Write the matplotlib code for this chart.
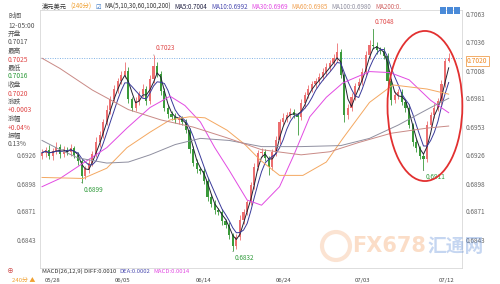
import numpy as np
import pandas as pd
import matplotlib
matplotlib.use('Agg')
import matplotlib.pyplot as plt
from matplotlib.patches import Ellipse, Rectangle

plt.rcParams['font.family'] = ['Noto Sans CJK SC', 'DejaVu Sans']

# AUD/USD 240min candles
first_open = 0.6925
close = [0.6928, 0.6931, 0.6925, 0.6930, 0.6934, 0.6927, 0.6931, 0.6929, 0.6933, 0.6926,
         0.6920, 0.6905, 0.6912, 0.6918, 0.6927, 0.6938, 0.6945, 0.6958, 0.6970, 0.6980,
         0.6990, 0.6998, 0.7004, 0.7008, 0.6980, 0.6972, 0.6978, 0.6985, 0.6990, 0.6978,
         0.7000, 0.7012, 0.7005, 0.6988, 0.6972, 0.6966, 0.6963, 0.6960, 0.6962, 0.6958,
         0.6950, 0.6932, 0.6918, 0.6912, 0.6910, 0.6901, 0.6885, 0.6878, 0.6872, 0.6870,
         0.6862, 0.6858, 0.6848, 0.6837, 0.6846, 0.6863, 0.6870, 0.6880, 0.6897, 0.6914,
         0.6928, 0.6929, 0.6923, 0.6914, 0.6929, 0.6940, 0.6958, 0.6962, 0.6965, 0.6968,
         0.6965, 0.6963, 0.6976, 0.6984, 0.6990, 0.6995, 0.6998, 0.7002, 0.7007, 0.7011,
         0.7015, 0.7020, 0.7026, 0.7004, 0.6965, 0.6972, 0.6982, 0.6993, 0.6997, 0.7007,
         0.7023, 0.7033, 0.7032, 0.7028, 0.7027, 0.7022, 0.6998, 0.6979, 0.6984, 0.6987,
         0.6977, 0.6972, 0.6955, 0.6938, 0.6933, 0.6925, 0.6922, 0.6955, 0.6965, 0.6972,
         0.6978, 0.6995, 0.7017, 0.7020]
# wick lengths in pips above / below the body
up_wick = [4, 3, 5, 3, 4, 3, 4, 3, 4, 2,
           3, 2, 3, 4, 3, 5, 4, 3, 4, 3,
           4, 3, 4, 8, 3, 2, 4, 3, 5, 3,
           4, 11, 4, 3, 3, 2, 3, 4, 3, 2,
           3, 2, 3, 4, 2, 3, 2, 3, 4, 2,
           3, 2, 3, 2, 3, 4, 3, 2, 3, 4,
           3, 4, 3, 2, 3, 4, 3, 5, 3, 4,
           3, 2, 4, 3, 4, 3, 3, 4, 3, 4,
           3, 4, 9, 3, 2, 3, 4, 3, 4, 3,
           4, 5, 15, 4, 3, 4, 3, 2, 4, 3,
           3, 2, 3, 2, 3, 2, 3, 4, 3, 4,
           3, 4, 3, 5]
dn_wick = [3, 4, 3, 4, 3, 4, 3, 3, 4, 3,
           4, 6, 3, 4, 3, 3, 4, 3, 3, 4,
           3, 4, 3, 3, 4, 3, 3, 4, 3, 4,
           3, 4, 3, 4, 3, 4, 3, 3, 4, 3,
           3, 4, 3, 4, 3, 3, 4, 3, 4, 3,
           4, 3, 4, 5, 3, 3, 4, 3, 3, 4,
           3, 4, 3, 8, 3, 4, 3, 3, 4, 3,
           3, 18, 3, 4, 3, 3, 4, 3, 3, 4,
           3, 3, 4, 3, 7, 4, 3, 3, 4, 3,
           3, 4, 3, 4, 3, 3, 4, 5, 3, 4,
           3, 4, 3, 3, 4, 3, 11, 3, 4, 3,
           3, 4, 3, 1]

# slower moving averages, sampled along the chart (candle index, price)
ma30_x = [0, 5, 10.6, 18, 23.6, 30, 35.6, 39.7, 44, 48, 52, 57, 61, 66, 70, 74.4, 79, 83.6, 91, 96.7, 102, 108, 113]
ma30_y = [0.6895, 0.6903, 0.6916, 0.6933, 0.6952, 0.6972, 0.6983, 0.6974, 0.6958, 0.6933, 0.6911, 0.6882,
          0.6877, 0.6895, 0.6926, 0.6963, 0.6982, 0.6996, 0.7007, 0.7006, 0.6999, 0.6979, 0.6967]
ma60_x = [0, 11.4, 18, 23.6, 30, 35.6, 41, 45.3, 51.4, 56.4, 60.6, 66, 72.5, 79, 83.6, 91, 97.5, 107, 113]
ma60_y = [0.6904, 0.6903, 0.6913, 0.6933, 0.6948, 0.6960, 0.6963, 0.6962, 0.6950, 0.6936, 0.6921, 0.6906,
          0.6906, 0.6919, 0.6942, 0.6977, 0.6994, 0.6990, 0.6985]
ma100_x = [0, 5, 10, 18, 24, 30, 37, 44, 52, 61, 72, 83, 91, 99, 108, 113]
ma100_y = [0.6940, 0.6931, 0.6923, 0.6918, 0.6919, 0.6926, 0.6936, 0.6942, 0.6940, 0.6934, 0.6934, 0.6935,
           0.6942, 0.6955, 0.6972, 0.6981]
ma200_x = [0, 5, 14, 24, 33, 42, 51, 61, 72, 80, 88, 97, 107, 113]
ma200_y = [0.7020, 0.7010, 0.6989, 0.6970, 0.6960, 0.6953, 0.6943, 0.6931, 0.6926, 0.6929, 0.6938, 0.6947,
           0.6952, 0.6954]

price_ticks = [0.7063, 0.7036, 0.7008, 0.6981, 0.6953, 0.6926, 0.6898, 0.6871, 0.6843]
date_pos = [3, 22.5, 45, 67, 89, 112.5]
date_labels = ['05/28', '06/05', '06/14', '06/24', '07/03', '07/12']
last_price = 0.7020

# marked extremes: candle index, 'h' or 'l'
marks = [(11, 'l'), (31, 'h'), (53, 'l'), (92, 'h'), (106, 'l')]

info_names = ['时间', '开盘', '最高', '最低', '收盘', '涨跌', '涨幅', '振幅']
info_vals = ['12-05:00', '0.7017', '0.7025', '0.7016', '0.7020', '+0.0003', '+0.04%', '0.13%']
info_cols = ['#555555', '#555555', '#e04848', '#2e9a3a', '#e04848', '#e04848', '#e04848', '#555555']

UP = '#ec6f70'
DN = '#3a9a3a'

close = np.array(close)
opn = np.r_[first_open, close[:-1]]
hi = np.maximum(opn, close) + np.array(up_wick) * 0.0001
lo = np.minimum(opn, close) - np.array(dn_wick) * 0.0001
idx = np.arange(len(close))
cols = np.where(close >= opn, UP, DN)

W, H = 500, 284
fig = plt.figure(figsize=(5.0, 2.84), dpi=100)
ax = fig.add_axes([40 / W, 1 - 268 / H, 422 / W, 258 / H])

ax.vlines(idx, lo, hi, colors=cols, lw=0.6, zorder=2)
body = np.maximum(np.abs(close - opn), 0.00008)
ax.bar(idx, body, bottom=np.minimum(opn, close), width=0.6, color=cols, lw=0, zorder=3)

s = pd.Series(close)
ax.plot(idx, s.rolling(3, min_periods=1).mean(), color='#222233', lw=0.7, zorder=4)
ax.plot(idx, s.rolling(5, min_periods=1).mean(), color='#3a3a9a', lw=0.7, zorder=4)
ax.plot(ma30_x, ma30_y, color='#e24ae2', lw=0.7, zorder=4)
ax.plot(ma60_x, ma60_y, color='#f4a861', lw=0.7, zorder=4)
ax.plot(ma100_x, ma100_y, color='#8f8fa0', lw=0.7, zorder=4)
ax.plot(ma200_x, ma200_y, color='#c98a86', lw=0.7, zorder=4)

ax.axhline(last_price, color='#7fb2e5', lw=0.7, ls=(0, (1, 1.5)), zorder=1)

for i, k in marks:
    if k == 'h':
        ax.annotate(f'{hi[i]:.4f}', xy=(i, hi[i]), xytext=(2, 3), textcoords='offset pixels',
                    fontsize=4.6, color='#e04848', va='bottom', ha='left',
                    arrowprops=dict(arrowstyle='-', color='#333333', lw=0.4, shrinkA=0, shrinkB=0))
    else:
        ax.annotate(f'{lo[i]:.4f}', xy=(i, lo[i]), xytext=(2, -3), textcoords='offset pixels',
                    fontsize=4.6, color='#2e9a3a', va='top', ha='left',
                    arrowprops=dict(arrowstyle='-', color='#333333', lw=0.4, shrinkA=0, shrinkB=0))

ax.add_patch(Ellipse((106.4, 0.69735), 20.8, 0.0146, fill=False, ec='#e23030', lw=1.3,
                     zorder=6, clip_on=False))

ax.set_xlim(-0.56, 116.7)
ax.set_ylim(0.68159, 0.70669)
ax.set_yticks(price_ticks)
ax.set_yticklabels([f'{p:.4f}' for p in price_ticks])
ax.set_xticks([])
ax.tick_params(axis='y', length=0, labelsize=4.6, labelcolor='#666666',
               labelleft=True, labelright=True, pad=2.5)
for t, p in zip(ax.yaxis.get_major_ticks(), price_ticks):
    if p > 0.693:
        t.label1.set_visible(False)
for sp in ax.spines.values():
    sp.set_color('#d8d8d8')
    sp.set_linewidth(0.6)

for p, lab in zip(date_pos, date_labels):
    ax.text(p, -12.5 / 258, lab, transform=ax.get_xaxis_transform(), fontsize=4.3,
            color='#444444', ha='center', va='center')

# right side last price tag
fig.text(467 / W, 1 - 61 / H, f'{last_price:.4f}', fontsize=4.8, color='#f08a24', va='center',
         bbox=dict(boxstyle='square,pad=0.15', fc='white', ec='#f0a050', lw=0.6))

# left info panel
fig.text(8 / W, 1 - 16 / H, info_names[0], fontsize=4.8, color='#555555', va='center')
fig.text(8 / W, 1 - 25.5 / H, info_vals[0], fontsize=4.8, color='#555555', va='center')
y = 34
for n, v, c in zip(info_names[1:], info_vals[1:], info_cols[1:]):
    fig.text(8 / W, 1 - y / H, n, fontsize=4.8, color='#555555', va='center')
    fig.text(8 / W, 1 - (y + 8.5) / H, v, fontsize=4.8, color=c, va='center')
    y += 17

# title row
fs = 4.5
prev = fig.text(42 / W, 1 - 7 / H, '澳元美元', fontsize=fs, color='#333333', va='center')
pieces = [('(240分)', '#f0a030'), ('☑', '#3070c0'), ('MA(5,10,30,60,100,200)', '#333333'),
          ('MA5:0.7004', '#222244'), ('MA10:0.6992', '#4a4ab0'), ('MA30:0.6969', '#e24ae2'),
          ('MA60:0.6985', '#f0a050'), ('MA100:0.6980', '#8f8fa0'), ('MA200:0.', '#d06060')]
for txt, c in pieces:
    prev = ax.annotate(txt, xy=(1, 0.5), xycoords=prev, xytext=(2.6, 0), textcoords='offset points',
                       fontsize=fs, color=c, va='center', ha='left', annotation_clip=False)

for k in range(3):
    fig.add_artist(Rectangle(((440 + 7 * k) / W, 1 - 14 / H), 6 / W, 7 / H, fc='#4a8ad8', ec='none'))

# macd line and bottom-left controls
mp = fig.text(42 / W, 1 - 271.5 / H, 'MACD(26,12,9) DIFF:0.0010', fontsize=4.3, color='#333333', va='center')
mp = ax.annotate('DEA:0.0002', xy=(1, 0.5), xycoords=mp, xytext=(2.2, 0), textcoords='offset points',
                 fontsize=4.3, color='#4a4ab0', va='center', annotation_clip=False)
ax.annotate('MACD:0.0014', xy=(1, 0.5), xycoords=mp, xytext=(2.2, 0), textcoords='offset points',
            fontsize=4.3, color='#e24ae2', va='center', annotation_clip=False)
fig.text(10 / W, 1 - 271 / H, '⊕', fontsize=5, color='#d05050', va='center', ha='center')
fig.text(12 / W, 1 - 280 / H, '240分 ▲', fontsize=4.3, color='#f0a030', va='center')

# watermark
fig.add_artist(Ellipse((336 / W, 1 - 246 / H), 28 / W, 28 / H, fill=False, ec='#f4b080', lw=3, alpha=0.35))
fig.text(352 / W, 1 - 246 / H, 'FX678', fontsize=15, color='#f4a060', alpha=0.35,
         weight='bold', va='center', family=['DejaVu Sans'])
fig.text(427 / W, 1 - 246 / H, '汇通网', fontsize=13.5, color='#5a8ad8', alpha=0.35,
         weight='bold', va='center')

fig.savefig('out.png', dpi=100)
